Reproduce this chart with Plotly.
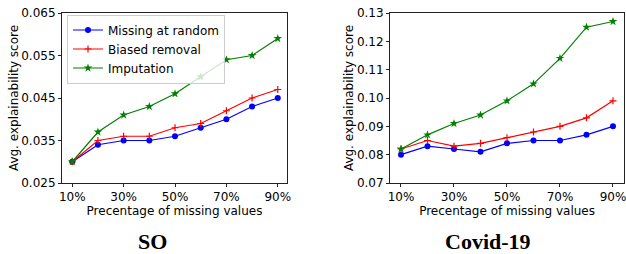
import plotly.graph_objects as go
from plotly.subplots import make_subplots

pct = [10, 20, 30, 40, 50, 60, 70, 80, 90]
tick_vals = [10, 30, 50, 70, 90]
tick_text = ["10%", "30%", "50%", "70%", "90%"]

so_random = [0.030, 0.034, 0.035, 0.035, 0.036, 0.038, 0.040, 0.043, 0.045]
so_biased = [0.030, 0.035, 0.036, 0.036, 0.038, 0.039, 0.042, 0.045, 0.047]
so_imput = [0.030, 0.037, 0.041, 0.043, 0.046, 0.050, 0.054, 0.055, 0.059]

cv_random = [0.080, 0.083, 0.082, 0.081, 0.084, 0.085, 0.085, 0.087, 0.090]
cv_biased = [0.082, 0.085, 0.083, 0.084, 0.086, 0.088, 0.090, 0.093, 0.099]
cv_imput = [0.082, 0.087, 0.091, 0.094, 0.099, 0.105, 0.114, 0.125, 0.127]

so_ticks = [0.025, 0.035, 0.045, 0.055, 0.065]
so_tick_text = ["0.025", "0.035", "0.045", "0.055", "0.065"]
cv_ticks = [0.07, 0.08, 0.09, 0.10, 0.11, 0.12, 0.13]
cv_tick_text = ["0.07", "0.08", "0.09", "0.10", "0.11", "0.12", "0.13"]

names = ["Missing at random", "Biased removal", "Imputation"]
colors = ["#0000ff", "#ff0000", "#008000"]
symbols = ["circle", "cross-thin", "star"]
sizes = [6, 5, 6.5]

fig = make_subplots(rows=1, cols=2)

for col, series in ((1, [so_random, so_biased, so_imput]), (2, [cv_random, cv_biased, cv_imput])):
    for i, ys in enumerate(series):
        fig.add_trace(go.Scatter(
            x=pct, y=ys, mode="lines+markers", name=names[i],
            line=dict(color=colors[i], width=1.2),
            marker=dict(symbol=symbols[i], size=sizes[i], color=colors[i],
                        line=dict(color=colors[i], width=1.2 if i == 1 else 0)),
            showlegend=(col == 1),
        ), row=1, col=col)

font = "DejaVu Sans, sans-serif"
axis_common = dict(showline=True, linecolor="#222222", linewidth=1, mirror=True,
                   ticks="outside", ticklen=3, tickcolor="#222222", showgrid=False,
                   zeroline=False, automargin=False, ticklabeloverflow="allow",
                   tickfont=dict(family=font, size=12, color="black"))

fig.update_xaxes(tickvals=tick_vals, ticktext=tick_text, **axis_common)
fig.update_yaxes(**axis_common)

title_font = dict(family=font, size=12, color="black")

fig.update_layout(
    width=626, height=254,
    margin=dict(l=0, r=0, t=0, b=0),
    paper_bgcolor="white", plot_bgcolor="white",
    xaxis=dict(domain=[0.099, 0.4585], range=[6, 93.6],
               title=dict(text="Precentage of missing values", standoff=0, font=title_font)),
    xaxis2=dict(domain=[0.623, 0.997], range=[5.85, 94.2],
                title=dict(text="Precentage of missing values", standoff=0, font=title_font)),
    yaxis=dict(domain=[0.2795, 0.9488], range=[0.025, 0.065], tickvals=so_ticks,
               ticktext=so_tick_text,
               title=dict(text="Avg. explainability score", standoff=0, font=title_font)),
    yaxis2=dict(domain=[0.2795, 0.9488], range=[0.07, 0.13], tickvals=cv_ticks,
                ticktext=cv_tick_text,
                title=dict(text="Avg. explainability score", standoff=0, font=title_font)),
    legend=dict(x=67 / 626, y=1 - 14.5 / 254, xanchor="left", yanchor="top",
                bgcolor="rgba(255,255,255,0.8)", bordercolor="#cccccc", borderwidth=1,
                font=dict(family=font, size=12, color="black"),
                tracegroupgap=0, itemwidth=30),
    showlegend=True,
    annotations=[
        dict(text="<b>SO</b>", x=152 / 626, y=1 - 241.5 / 254, xref="paper", yref="paper",
             showarrow=False, xanchor="center", yanchor="middle",
             font=dict(family="Liberation Serif, serif", size=22, color="black")),
        dict(text="<b>Covid-19</b>", x=488 / 626, y=1 - 241.5 / 254, xref="paper", yref="paper",
             showarrow=False, xanchor="center", yanchor="middle",
             font=dict(family="Liberation Serif, serif", size=22, color="black")),
    ],
)

fig.write_html("out.html", config={"displayModeBar": False},
               post_script="document.body.style.margin='0';")
